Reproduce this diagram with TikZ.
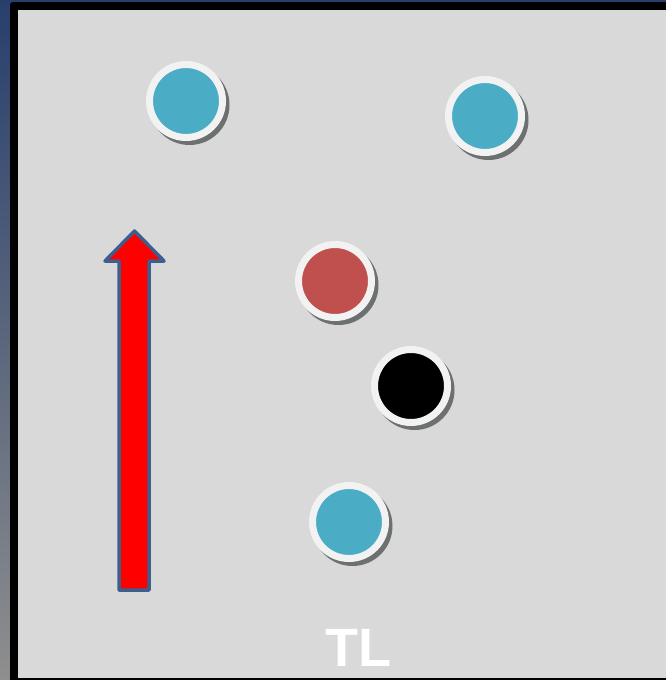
\documentclass[tikz,border=0pt]{standalone}
\usepackage{fontspec}
\setmainfont{Liberation Sans}
\definecolor{navy}{HTML}{283F6D}
\definecolor{edgegray}{HTML}{8E8E8E}
\definecolor{panel}{HTML}{D9D9D9}
\definecolor{ring}{HTML}{F2F2F2}
\definecolor{shadowc}{HTML}{6C7070}
\definecolor{ballblue}{HTML}{4BACC6}
\definecolor{ballred}{HTML}{C0504D}
\definecolor{arrowedge}{HTML}{3E5E8E}
\tikzset{
  ball/.style={circle, draw=ring, line width=7pt, minimum size=73pt, inner sep=0pt},
  ballshadow/.style={circle, fill=shadowc, minimum size=80pt, inner sep=0pt},
}
\begin{document}
\begin{tikzpicture}[x=1pt,y=-1pt]
\useasboundingbox (0,0) rectangle (666,680);
\shade[top color=navy, bottom color=edgegray] (0,0) rectangle (666,680);
\fill[black, rounded corners=3pt] (10,2) rectangle (680,690);
\fill[panel] (18,10) rectangle (666,678);
% balls: shadows
\foreach \x/\y in {186/101, 485/116, 335/281, 411/386, 349/522}
  \node[ballshadow] at (\x+3.5,\y+4) {};
\node[ball, fill=ballblue] (b1) at (186,101) {};
\node[ball, fill=ballblue] (b2) at (485,116) {};
\node[ball, fill=ballred] (r1) at (335,281) {};
\node[ball, fill=black] (k1) at (411,386) {};
\node[ball, fill=ballblue] (b3) at (349,522) {};
% arrow
\draw[fill=red, draw=arrowedge, line width=3.5pt, line join=round]
  (119,590) -- (119,261) -- (105,261) -- (134.5,231) -- (164,261) -- (149,261) -- (149,590) -- cycle;
\node[text=white, font=\bfseries\fontsize{54}{54}\selectfont, inner sep=0pt] (tl) at (358,648) {TL};
\end{tikzpicture}
\end{document}
